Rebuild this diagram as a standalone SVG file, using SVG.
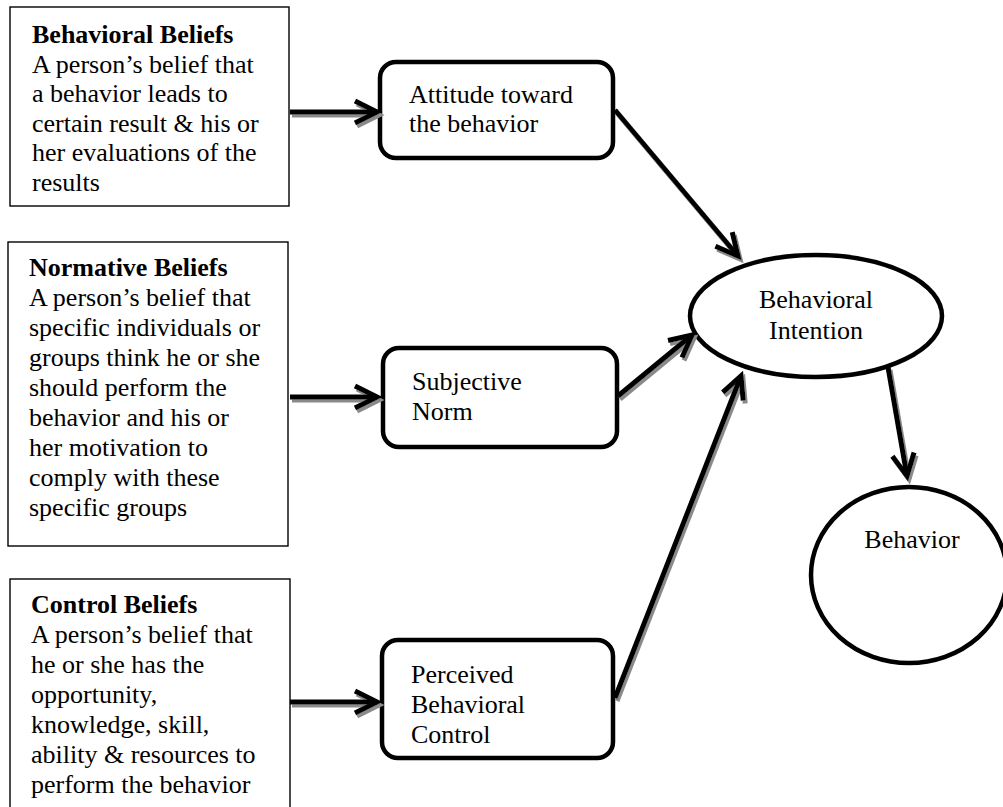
<svg xmlns="http://www.w3.org/2000/svg" width="1003" height="807" viewBox="0 0 1003 807">
<style>
text{font-family:"Liberation Serif","Times New Roman",serif;font-size:26px;fill:#000}
.b{font-weight:bold}
.box{fill:#fff;stroke:#000;stroke-width:1.4}
.rbox{fill:#fff;stroke:#000;stroke-width:4.5}
.ell{fill:#fff;stroke:#000;stroke-width:4.5}
.c{text-anchor:middle}
.con{stroke:#000;stroke-width:5;fill:none;marker-end:url(#ah)}
</style>
<defs>
<filter id="sh" x="-20%" y="-20%" width="140%" height="140%">
<feDropShadow dx="2" dy="3" stdDeviation="0.6" flood-color="#8a8a8a"/>
</filter>
<marker id="ah" markerUnits="userSpaceOnUse" orient="auto" refX="0" refY="0" markerWidth="40" markerHeight="40" viewBox="-30 -20 40 40" overflow="visible">
<path d="M-22,-11 L0,0 L-22,11" fill="none" stroke="#000" stroke-width="5" stroke-linejoin="miter"/>
</marker>
</defs>
<rect width="1003" height="807" fill="#fff"/>
<g id="behavioral-beliefs">
<rect class="box" x="10" y="7" width="279" height="199"/>
<text x="32" y="43" class="b">Behavioral Beliefs</text>
<text x="32" y="73">A person’s belief that</text>
<text x="32" y="102">a behavior leads to</text>
<text x="32" y="132">certain result &amp; his or</text>
<text x="32" y="161">her evaluations of the</text>
<text x="32" y="191">results</text>
</g>
<g id="normative-beliefs">
<rect class="box" x="8" y="242" width="280" height="304"/>
<text x="29" y="276" class="b">Normative Beliefs</text>
<text x="29" y="306">A person’s belief that</text>
<text x="29" y="336">specific individuals or</text>
<text x="29" y="366">groups think he or she</text>
<text x="29" y="396">should perform the</text>
<text x="29" y="426">behavior and his or</text>
<text x="29" y="456">her motivation to</text>
<text x="29" y="486">comply with these</text>
<text x="29" y="516">specific groups</text>
</g>
<g id="control-beliefs">
<rect class="box" x="10" y="579" width="280" height="240"/>
<text x="31" y="613" class="b">Control Beliefs</text>
<text x="31" y="643">A person’s belief that</text>
<text x="31" y="673">he or she has the</text>
<text x="31" y="703">opportunity,</text>
<text x="31" y="733">knowledge, skill,</text>
<text x="31" y="763">ability &amp; resources to</text>
<text x="31" y="793">perform the behavior</text>
</g>
<g id="attitude">
<rect class="rbox" x="380" y="62" width="233" height="96" rx="16"/>
<text x="409" y="103">Attitude toward</text>
<text x="409" y="132">the behavior</text>
</g>
<g id="subjective-norm">
<rect class="rbox" x="383" y="348" width="234" height="99" rx="16"/>
<text x="412" y="390">Subjective</text>
<text x="412" y="420">Norm</text>
</g>
<g id="perceived-control">
<rect class="rbox" x="382" y="640" width="231" height="118" rx="16"/>
<text x="411" y="683">Perceived</text>
<text x="411" y="713">Behavioral</text>
<text x="411" y="743">Control</text>
</g>
<g id="behavioral-intention">
<ellipse class="ell" cx="816" cy="316" rx="126" ry="61"/>
<text x="816" y="308" class="c">Behavioral</text>
<text x="816" y="339" class="c">Intention</text>
</g>
<g id="behavior">
<ellipse class="ell" cx="909" cy="575" rx="98" ry="88"/>
<text x="912" y="548" class="c">Behavior</text>
</g>
<g id="connectors" filter="url(#sh)">
<line class="con" x1="290" y1="112" x2="377" y2="112"/>
<line class="con" x1="290" y1="397" x2="377" y2="397"/>
<line class="con" x1="290" y1="702" x2="377" y2="702"/>
<line class="con" x1="615" y1="110" x2="738" y2="256"/>
<line class="con" x1="618" y1="396" x2="692" y2="335"/>
<line class="con" x1="615" y1="698" x2="741" y2="376"/>
<line class="con" x1="888" y1="367" x2="907" y2="476"/>
</g>
</svg>
